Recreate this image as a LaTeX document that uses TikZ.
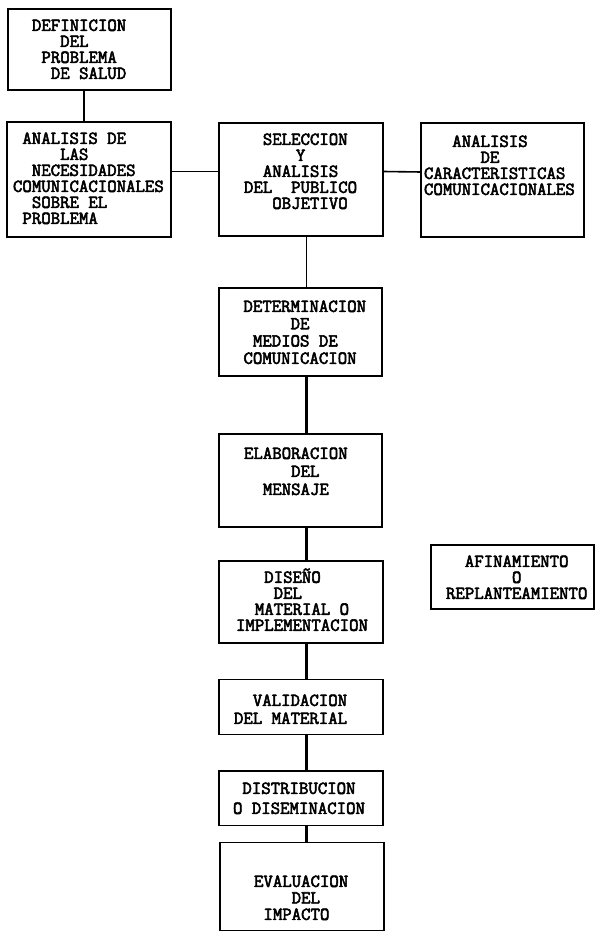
\documentclass[tikz,border=0pt]{standalone}
\usepackage{fontspec}
\newfontfamily\typew{Latin Modern Mono}[FakeBold=3]
\newlength\chw
\setlength\chw{9.6pt}
\tikzset{
  box/.style={draw=black, line width=1.6pt, inner sep=0pt, outer sep=0pt},
  txt/.style={anchor=north west, align=left, inner sep=0pt, outer sep=0pt,
    font=\typew\fontsize{18.3}{#1}\selectfont},
  txt/.default=16,
  link/.style={draw=black, line width=1.6pt, line cap=butt},
  linkbold/.style={draw=black, line width=2.6pt, line cap=butt}
}

\begin{document}
\begin{tikzpicture}[x=1pt, y=-1pt]
  \path[fill=white] (0,0) rectangle (599,936);
  \useasboundingbox (0,0) rectangle (599,936);

  % boxes
  \node[box, minimum width=163, minimum height=81] (defin) at (89.5, 49.5) {};
  \node[box, minimum width=164, minimum height=115] (necesid) at (89, 179.5) {};
  \node[box, minimum width=164, minimum height=113] (selecc) at (301, 179.5) {};
  \node[box, minimum width=163, minimum height=114] (caract) at (502.5, 180) {};
  \node[box, minimum width=163, minimum height=88] (medios) at (300.5, 332) {};
  \node[box, minimum width=163, minimum height=93] (mensaje) at (300.5, 480.5) {};
  \node[box, minimum width=164, minimum height=82] (diseno) at (301, 602) {};
  \node[box, minimum width=163, minimum height=64] (afina) at (512.5, 577) {};
  \node[box, minimum width=164, minimum height=55] (valid) at (301, 707) {};
  \node[box, minimum width=164, minimum height=54.5] (distrib) at (301, 798.25) {};
  \node[box, minimum width=164, minimum height=88] (evalua) at (302, 886.5) {};

  % texts
  \node[txt] (tdefin) at (32, 19.5) {DEFINICION\\~~~DEL\\~PROBLEMA\\~~DE SALUD};
  \node[txt] (tnecesid) at (13, 132.5) {~ANALISIS DE\\~~~~~LAS\\~~NECESIDADES\\COMUNICACIONALES\\~~SOBRE EL\\~PROBLEMA};
  \node[txt] (tselecc) at (244, 133.5) {~~SELECCION\\~~~~~\hspace*{0.5\chw}Y\\~~ANALISIS\\DEL~~PUBLICO\\~~~OBJETIVO};
  \node[txt] (tcaract) at (424, 135.5) {~~~ANALISIS\\~~~~~~DE\\CARACTERISTICAS\\COMUNICACIONALES};
  \node[txt=17.3] (tmedios) at (243.5, 300.5) {DETERMINACION\\~~~~~DE\\~MEDIOS DE\\COMUNICACION};
  \node[txt=18] (tmensaje) at (244, 447.5) {ELABORACION\\~~~~~DEL\\~~MENSAJE};
  \node[txt] (tdiseno) at (236, 568.5) {~~~DISEÑO\\~~~~DEL\\~~MATERIAL O\\IMPLEMENTACION};
  \node[txt] (tafina) at (446, 555.5) {~~AFINAMIENTO\\~~~~~~~O\\REPLANTEAMIENTO};
  \node[txt=18] (tvalid) at (234, 694.5) {~~VALIDACION\\DEL MATERIAL};
  \node[txt=20] (tdistrib) at (233, 782.5) {~DISTRIBUCION\\O DISEMINACION};
  \node[txt=16.5] (tevalua) at (254, 875.5) {EVALUACION\\~~~~DEL\\~IMPACTO};

  % connectors
  \path[link] ([xshift=-5.5pt]defin.south) -- ([xshift=-5pt]necesid.north);
  \path[link] ([yshift=8pt]necesid.east) -- ([yshift=8pt]selecc.west);
  \path[link] ([yshift=8pt]selecc.east) -- ([yshift=8pt]caract.west);
  \path[link] ([xshift=5.5pt]selecc.south) -- ([xshift=6pt]medios.north);
  \path[linkbold] ([xshift=6pt]medios.south) -- ([xshift=6pt]mensaje.north);
  \path[linkbold] ([xshift=6pt]mensaje.south) -- ([xshift=5.5pt]diseno.north);
  \path[linkbold] ([xshift=5.5pt]diseno.south) -- ([xshift=5.5pt]valid.north);
  \path[linkbold] ([xshift=5.5pt]valid.south) -- ([xshift=5.5pt]distrib.north);
  \path[linkbold] ([xshift=5.5pt]distrib.south) -- ([xshift=4.5pt]evalua.north);

\end{tikzpicture}
\end{document}
